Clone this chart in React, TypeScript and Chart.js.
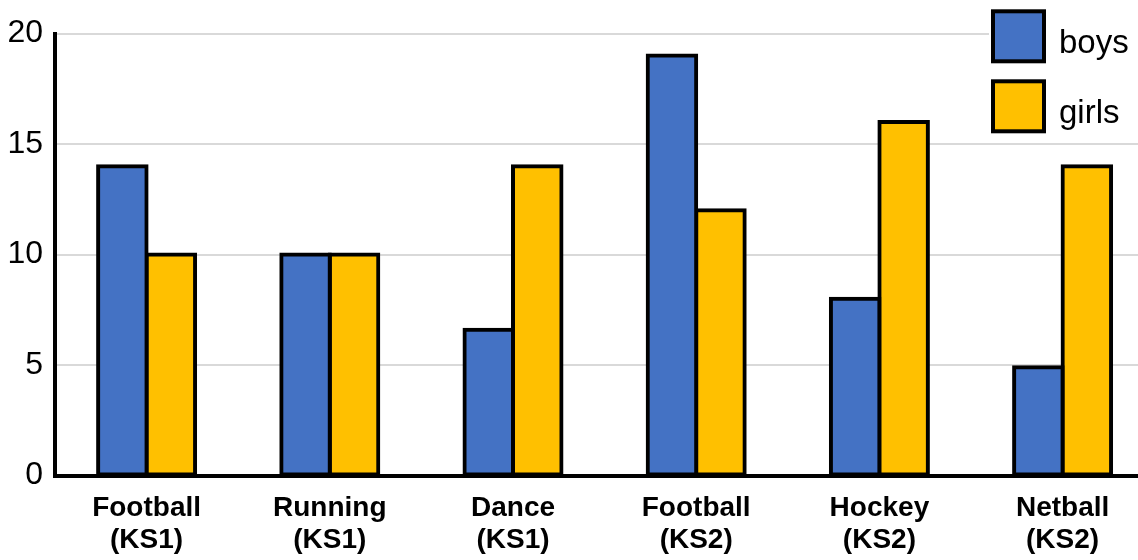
import React, { useEffect, useRef } from "react";
import { Chart, registerables } from "chart.js";

Chart.register(...registerables);

const categories: string[][] = [
  ["Football", "(KS1)"],
  ["Running", "(KS1)"],
  ["Dance", "(KS1)"],
  ["Football", "(KS2)"],
  ["Hockey", "(KS2)"],
  ["Netball", "(KS2)"],
];
const seriesNames = ["boys", "girls"];
const boys = [14, 10, 6.6, 19, 8, 4.9];
const girls = [10, 10, 14, 12, 16, 14];
const yTicks = [0, 5, 10, 15, 20];

const FONT = "'Liberation Sans', Arial, sans-serif";
const BLUE = "#4472C4";
const YELLOW = "#FFC000";

const legendPlugin = {
  id: "boxLegend",
  afterDraw(chart: any) {
    const ctx = chart.ctx as CanvasRenderingContext2D;
    ctx.save();
    ctx.fillStyle = "#ffffff";
    ctx.fillRect(989, 0, 200, 138);
    chart.data.datasets.forEach((ds: any, i: number) => {
      const top = 11.3 + i * 70;
      ctx.fillStyle = ds.backgroundColor;
      ctx.fillRect(993, top, 51, 50);
      ctx.lineWidth = 4;
      ctx.strokeStyle = "#000";
      ctx.strokeRect(993, top, 51, 50);
      ctx.fillStyle = "#000";
      ctx.font = `33px ${FONT}`;
      ctx.textAlign = "left";
      ctx.textBaseline = "alphabetic";
      ctx.fillText(ds.label, 1059, 53.3 + i * 70);
    });
    ctx.restore();
  },
};

export default function App() {
  const ref = useRef<HTMLCanvasElement | null>(null);
  useEffect(() => {
    if (!ref.current) return;
    const barCommon = {
      borderColor: "#000",
      borderWidth: 4,
      borderSkipped: false,
      inflateAmount: 2,
      categoryPercentage: 97 / 183.2,
      barPercentage: 1,
      clip: false,
    };
    const chart = new Chart(ref.current, {
      type: "bar",
      data: {
        labels: categories,
        datasets: [
          { label: seriesNames[0], data: boys, backgroundColor: BLUE, ...barCommon },
          { label: seriesNames[1], data: girls, backgroundColor: YELLOW, ...barCommon },
        ],
      },
      options: {
        animation: false,
        responsive: true,
        maintainAspectRatio: false,
        devicePixelRatio: 1,
        layout: { padding: { top: 33.5, right: 5.8, left: 0, bottom: 0 } },
        plugins: {
          legend: { display: false },
          tooltip: { enabled: false },
        },
        scales: {
          x: {
            grid: { display: false, drawTicks: false },
            border: { display: true, color: "#000", width: 4 },
            ticks: {
              color: "#000",
              font: { family: FONT, size: 28, weight: "bold", lineHeight: 32 / 28 },
              padding: 16.4,
              maxRotation: 0,
              autoSkip: false,
            },
            afterFit: (s: any) => {
              s.height = 84.4;
            },
          },
          y: {
            min: 0,
            max: 20,
            afterBuildTicks: (s: any) => {
              s.ticks = yTicks.map((v) => ({ value: v }));
            },
            grid: { color: "#d9d9d9", lineWidth: 2, drawTicks: false },
            border: { display: true, color: "#000", width: 4 },
            ticks: {
              color: "#000",
              font: { family: FONT, size: 32 },
              padding: 12,
            },
            afterFit: (s: any) => {
              s.width = 55;
            },
          },
        },
      } as any,
      plugins: [legendPlugin],
    });
    return () => chart.destroy();
  }, []);

  return (
    <div style={{ position: "fixed", left: 0, top: 0, width: 1138, height: 560, overflow: "hidden", background: "#fff" }}>
      <div style={{ position: "absolute", left: 0, top: 0, width: 1160, height: 560 }}>
        <canvas ref={ref} />
      </div>
    </div>
  );
}
